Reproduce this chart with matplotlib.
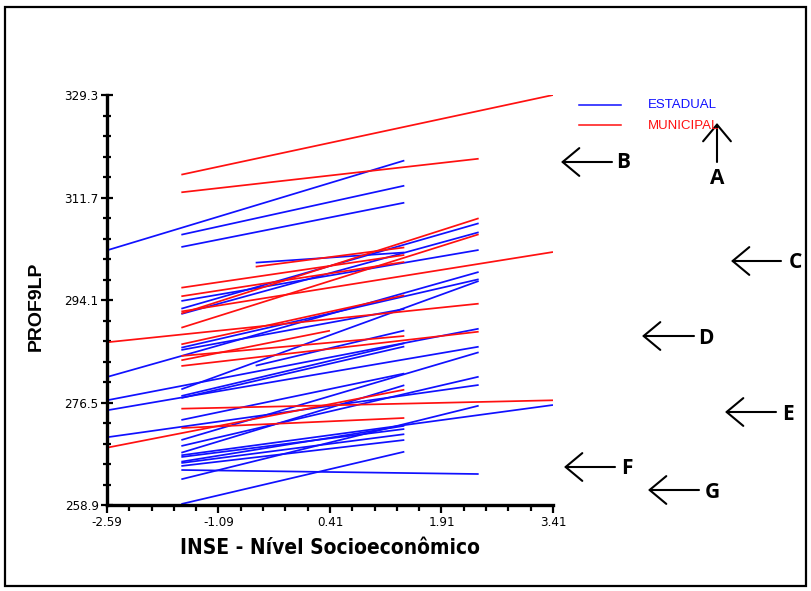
import matplotlib
matplotlib.use("Agg")
import matplotlib.pyplot as plt
from matplotlib.patches import Rectangle, FancyArrowPatch
from matplotlib import font_manager

# ---------------- data ----------------
x_ticks = [-2.59, -1.09, 0.41, 1.91, 3.41]
y_ticks = [258.9, 276.5, 294.1, 311.7, 329.3]

# ESTADUAL segments (start x, end x, start y, end y)
est_x0 = [-2.59, -1.59, -1.59, -0.59, -1.59, -1.59, -1.59, -2.59, -1.59, -1.59,
          -1.59, -0.59, -1.59, -1.59, -2.59, -2.59, -1.59, -1.59, -1.59, -1.59,
          -2.59, -1.59, -1.59, -1.59, -1.59, -1.59, -1.59, -1.59, -1.59]
est_x1 = [1.41, 1.41, 1.41, 1.41, 2.41, 2.41, 2.41, 2.41, 2.41, 2.41,
          1.41, 1.41, 1.41, 1.41, 2.41, 2.41, 1.41, 2.41, 2.41, 1.41,
          2.41, 3.41, 1.41, 1.41, 1.41, 2.41, 2.41, 1.41, 1.41]
est_y0 = [302.63, 305.31, 303.20, 300.51, 293.93, 292.61, 291.70, 280.88, 285.91, 278.77,
          285.52, 282.82, 277.62, 277.27, 276.88, 275.16, 273.50, 270.06, 269.03, 267.88,
          270.53, 267.44, 266.34, 266.11, 267.14, 264.91, 263.32, 265.60, 259.07]
est_y1 = [318.05, 313.73, 310.81, 302.26, 302.69, 307.27, 305.73, 298.91, 297.66, 297.36,
          292.56, 288.86, 286.67, 286.12, 289.17, 286.08, 281.48, 285.12, 280.93, 279.47,
          279.51, 276.07, 272.50, 271.06, 271.95, 264.22, 275.95, 270.06, 268.05]

# MUNICIPAL segments
mun_x0 = [-1.59, -1.59, -1.59, -0.59, -1.59, -1.59, -1.59, -1.59, -2.59, -1.59,
          -1.59, -1.59, -1.59, -1.59, -1.59, -2.59]
mun_x1 = [3.41, 2.41, 3.41, 1.41, 1.41, 1.41, 2.41, 2.41, 2.41, 0.41,
          1.41, 1.41, 2.41, 3.41, 1.41, 1.41]
mun_y0 = [315.62, 312.59, 292.13, 299.82, 296.21, 294.74, 291.78, 289.34, 286.84, 283.75,
          286.49, 284.49, 282.77, 275.44, 272.12, 268.74]
mun_y1 = [329.30, 318.36, 302.34, 303.12, 301.83, 300.63, 308.13, 305.38, 293.47, 288.83,
          294.91, 287.92, 288.66, 276.88, 273.84, 278.70]

legend_labels = ["ESTADUAL", "MUNICIPAL"]
arrow_letters = ["A", "B", "C", "D", "E", "F", "G"]

# ---------------- fonts ----------------
avail = {f.name for f in font_manager.fontManager.ttflist}
narrow = "Liberation Sans Narrow" if "Liberation Sans Narrow" in avail else "DejaVu Sans"
cond_family = "DejaVu Sans"

W, H = 811, 591
fig = plt.figure(figsize=(W / 100, H / 100), dpi=100)

def fx(px):
    return px / W

def fy(py):
    return 1 - py / H

# outer frame
fig.patches.append(Rectangle((fx(5), fy(586)), fx(806) - fx(5), fy(7) - fy(586),
                             transform=fig.transFigure, fill=False,
                             edgecolor="black", linewidth=1.6))

ax = fig.add_axes([fx(107), fy(505), fx(553) - fx(107), fy(95) - fy(505)])
ax.set_xlim(-2.59, 3.41)
ax.set_ylim(258.9, 329.3)

for x0, x1, y0, y1 in zip(est_x0, est_x1, est_y0, est_y1):
    ax.plot([x0, x1], [y0, y1], color="#1010ff", lw=1.25, solid_capstyle="butt")
for x0, x1, y0, y1 in zip(mun_x0, mun_x1, mun_y0, mun_y1):
    ax.plot([x0, x1], [y0, y1], color="#ff1010", lw=1.25, solid_capstyle="butt")

for s in ["top", "right"]:
    ax.spines[s].set_visible(False)
for s in ["left", "bottom"]:
    ax.spines[s].set_linewidth(2.4)

ax.set_xticks(x_ticks)
ax.set_xticklabels([f"{v:.2f}" for v in x_ticks])
ax.set_yticks(y_ticks)
ax.set_yticklabels([f"{v:.1f}" for v in y_ticks])
minor_x = [x_ticks[0] + 0.3 * i for i in range(21)]
minor_y = [y_ticks[0] + 3.52 * i for i in range(21)]
ax.set_xticks(minor_x, minor=True)
ax.set_yticks(minor_y, minor=True)
ax.tick_params(axis="both", which="major", length=6, width=1.6, labelsize=9.5,
               pad=2)
ax.tick_params(axis="y", which="major", direction="inout", length=8)
ax.tick_params(axis="x", which="major", direction="out", length=6)
ax.tick_params(axis="both", which="minor", length=4, width=1.6)
ax.tick_params(axis="y", which="minor", direction="inout", length=6)
for lab in ax.get_xticklabels() + ax.get_yticklabels():
    lab.set_fontfamily(narrow)
    lab.set_fontstretch("condensed")

fig.text(fx(36), fy(306), "PROF9LP", rotation=90, ha="center", va="center",
         fontsize=14, fontweight="bold", family="Liberation Sans")
fig.text(fx(330), fy(548), "INSE - Nível Socioeconômico", ha="center", va="center",
         fontsize=15, fontweight="bold", family=cond_family, fontstretch="condensed")

# legend
fig.add_artist(plt.Line2D([fx(579), fx(621)], [fy(105), fy(105)], color="#1010ff", lw=1.1))
fig.add_artist(plt.Line2D([fx(579), fx(621)], [fy(125), fy(125)], color="#ff1010", lw=1.1))
fig.text(fx(648), fy(105), legend_labels[0], color="#1010ff", fontsize=9.5,
         va="center", ha="left", family="Liberation Sans")
fig.text(fx(648), fy(126), legend_labels[1], color="#ff1010", fontsize=9.5,
         va="center", ha="left", family="Liberation Sans")

# arrows and letters
arrows = [  # (tail x, tail y, head x, head y, label x, label y)
    (717, 162, 717, 123, 717, 178),
    (612, 162, 561, 162, 623, 163),
    (781, 261, 731, 261, 795, 263),
    (694, 336, 642, 336, 706, 338),
    (776, 412, 725, 412, 788, 414),
    (615, 467, 564, 467, 627, 468),
    (699, 490, 648, 490, 712, 492),
]
for (tx, ty, hx, hy, lx, ly), letter in zip(arrows, arrow_letters):
    fig.add_artist(FancyArrowPatch(
        (fx(tx), fy(ty)), (fx(hx), fy(hy)), transform=fig.transFigure,
        arrowstyle="->,head_length=0.6,head_width=0.5", mutation_scale=20,
        lw=1.5, color="black", shrinkA=0, shrinkB=0))
    fig.text(fx(lx), fy(ly), letter, fontsize=15, fontweight="bold",
             ha="center", va="center", family="Open Sans")

fig.savefig("out.png", dpi=100)
